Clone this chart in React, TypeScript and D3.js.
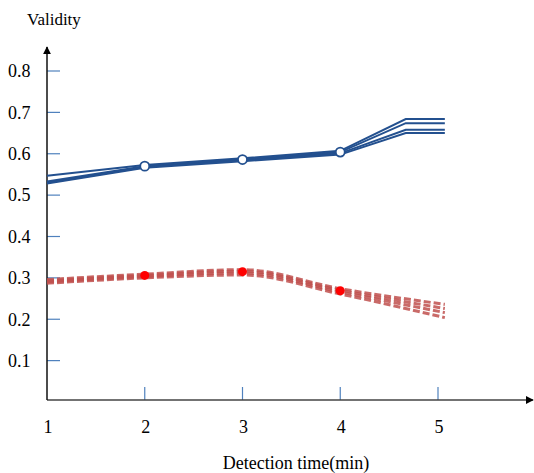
import React, { useEffect, useRef } from 'react';
import * as d3 from 'd3';

// x positions of the drawn points (last two form the flat tail of the blue lines)
const blueX = [1, 2, 3, 4, 4.67, 5.07];
const blueSeries = [
  [0.547, 0.573, 0.589, 0.607, 0.684, 0.684],
  [0.533, 0.570, 0.586, 0.604, 0.674, 0.674],
  [0.530, 0.568, 0.584, 0.601, 0.658, 0.658],
  [0.528, 0.566, 0.582, 0.598, 0.650, 0.650],
];
const blueMarkers = [0.570, 0.586, 0.604];

const redX = [1, 2, 3, 4, 5.07];
const redSeries = [
  [0.296, 0.309, 0.320, 0.274, 0.236],
  [0.293, 0.306, 0.316, 0.270, 0.226],
  [0.290, 0.303, 0.312, 0.266, 0.216],
  [0.287, 0.300, 0.307, 0.261, 0.204],
];
const redMarkers = [0.306, 0.315, 0.269];

const markerX = [2, 3, 4];
const xTicks = [1, 2, 3, 4, 5];
const yTicks = [0.1, 0.2, 0.3, 0.4, 0.5, 0.6, 0.7, 0.8];

export default function App() {
  const ref = useRef<SVGSVGElement>(null);

  useEffect(() => {
    const svg = d3.select(ref.current);
    svg.selectAll('*').remove();

    const font = "'Liberation Serif', 'Times New Roman', 'DejaVu Serif', serif";
    const x = d3.scaleLinear().domain([1, 5]).range([47, 438]);
    const y = d3.scaleLinear().domain([0, 0.8]).range([402, 71]);
    const x0 = 47;
    const y0 = 400;

    const defs = svg.append('defs');
    defs.append('marker')
      .attr('id', 'arrow')
      .attr('viewBox', '0 0 10 10')
      .attr('refX', 9)
      .attr('refY', 5)
      .attr('markerWidth', 8)
      .attr('markerHeight', 8)
      .attr('markerUnits', 'userSpaceOnUse')
      .attr('orient', 'auto')
      .append('path')
      .attr('d', 'M0,0 L10,5 L0,10 Z')
      .attr('fill', '#000');

    // ticks
    svg.append('g').selectAll('line')
      .data(yTicks)
      .enter()
      .append('line')
      .attr('x1', x0)
      .attr('x2', x0 + 13)
      .attr('y1', d => y(d))
      .attr('y2', d => y(d))
      .attr('stroke', '#4f81bd')
      .attr('stroke-width', 1.2);

    svg.append('g').selectAll('line')
      .data(xTicks.slice(1))
      .enter()
      .append('line')
      .attr('x1', d => x(d))
      .attr('x2', d => x(d))
      .attr('y1', y0)
      .attr('y2', y0 - 13)
      .attr('stroke', '#4f81bd')
      .attr('stroke-width', 1.2);

    // axes
    svg.append('line')
      .attr('x1', x0).attr('y1', y0)
      .attr('x2', 533).attr('y2', y0)
      .attr('stroke', '#444')
      .attr('stroke-width', 1.5)
      .attr('marker-end', 'url(#arrow)');
    svg.append('line')
      .attr('x1', x0).attr('y1', y0)
      .attr('x2', x0).attr('y2', 47)
      .attr('stroke', '#111')
      .attr('stroke-width', 1.5)
      .attr('marker-end', 'url(#arrow)');

    const texts = svg.append('g').style('font-family', font).attr('fill', '#000');

    // tick labels
    texts.append('g').selectAll('text')
      .data(yTicks)
      .enter()
      .append('text')
      .attr('x', 8)
      .attr('y', d => y(d))
      .attr('dy', '0.35em')
      .style('font-size', '18px')
      .text(d => d.toFixed(1));

    texts.append('g').selectAll('text')
      .data(xTicks)
      .enter()
      .append('text')
      .attr('x', d => x(d) + 1)
      .attr('y', 433)
      .attr('text-anchor', 'middle')
      .style('font-size', '18px')
      .text(d => d);

    texts.append('text')
      .attr('x', 27)
      .attr('y', 25)
      .style('font-size', '17px')
      .text('Validity');

    texts.append('text')
      .attr('x', 296)
      .attr('y', 469)
      .attr('text-anchor', 'middle')
      .style('font-size', '18px')
      .text('Detection time(min)');

    // blue lines
    const blueLine = d3.line<number>()
      .x((d, i) => x(blueX[i]))
      .y(d => y(d));
    svg.append('g').selectAll('path')
      .data(blueSeries)
      .enter()
      .append('path')
      .attr('d', d => blueLine(d))
      .attr('fill', 'none')
      .attr('stroke', '#23508f')
      .attr('stroke-width', 2);

    // red dashed lines
    const redLine = d3.line<number>()
      .x((d, i) => x(redX[i]))
      .y(d => y(d))
      .curve(d3.curveMonotoneX);
    svg.append('g').selectAll('path')
      .data(redSeries)
      .enter()
      .append('path')
      .attr('d', d => redLine(d))
      .attr('fill', 'none')
      .attr('stroke', '#c0504d')
      .attr('stroke-width', 3)
      .attr('stroke-dasharray', '7,3')
      .attr('opacity', 0.85);

    // markers
    svg.append('g').selectAll('circle')
      .data(blueMarkers)
      .enter()
      .append('circle')
      .attr('cx', (d, i) => x(markerX[i]))
      .attr('cy', d => y(d))
      .attr('r', 4.5)
      .attr('fill', '#fff')
      .attr('stroke', '#23508f')
      .attr('stroke-width', 1.8);

    svg.append('g').selectAll('circle')
      .data(redMarkers)
      .enter()
      .append('circle')
      .attr('cx', (d, i) => x(markerX[i]))
      .attr('cy', d => y(d))
      .attr('r', 4.5)
      .attr('fill', '#ff0000');
  }, []);

  return (
    <svg
      ref={ref}
      width={534}
      height={473}
      style={{ position: 'absolute', left: 0, top: 0, background: '#fff' }}
    />
  );
}
